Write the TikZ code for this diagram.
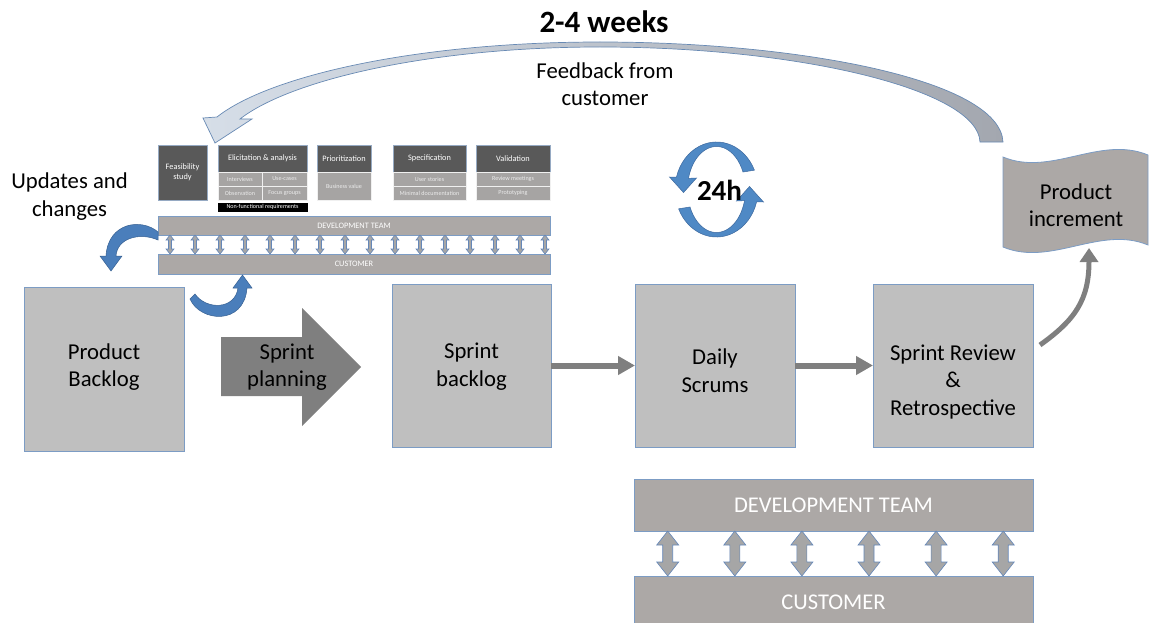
\documentclass[tikz,border=0pt]{standalone}
\usepackage{fontspec}
\setmainfont{Carlito}
\usetikzlibrary{arrows.meta,calc}

\definecolor{boxgray}{RGB}{191,191,191}
\definecolor{boxedge}{RGB}{124,156,196}
\definecolor{bargray}{RGB}{172,168,166}
\definecolor{darkhdr}{RGB}{89,89,89}
\definecolor{hdredge}{RGB}{150,170,195}
\definecolor{cellgray}{RGB}{166,164,163}
\definecolor{celltext}{RGB}{236,236,236}
\definecolor{flowgray}{RGB}{127,127,127}
\definecolor{ringblue}{RGB}{79,137,197}
\definecolor{ringedge}{RGB}{60,104,158}
\definecolor{fbleft}{RGB}{214,222,232}
\definecolor{fbright}{RGB}{163,167,175}
\definecolor{fbedge}{RGB}{104,138,180}
\definecolor{dblfill}{RGB}{166,166,166}
\definecolor{dbledge}{RGB}{100,135,185}
\definecolor{crescentfill}{RGB}{74,126,187}
\definecolor{crescentedge}{RGB}{55,96,146}

\begin{document}
\begin{tikzpicture}[x=1pt,y=-1pt,
  stagebox/.style={draw=boxedge, fill=boxgray, line width=0.8pt, inner sep=0pt, outer sep=0pt, anchor=north west},
  bigtext/.style={font=\fontsize{22.7}{27.5}\selectfont, align=center, text=black, inner sep=0pt},
  bar/.style={draw=boxedge, fill=bargray, line width=0.8pt, inner sep=0pt, outer sep=0pt, text=white, anchor=north west},
  hdr/.style={draw=hdredge, fill=darkhdr, text=white, font=\fontsize{8.3}{10}\selectfont, align=center, inner sep=0pt, outer sep=0pt, line width=0.5pt, anchor=north west},
  cell/.style={draw=white!88!gray, fill=cellgray, text=celltext, font=\fontsize{6.1}{7}\selectfont, inner sep=0pt, outer sep=0pt, line width=0.5pt, anchor=north west},
  flow/.style={draw=flowgray, line width=6pt, -{Triangle[length=17pt,width=18pt]}},
  dblarrow/.style={fill=dblfill, draw=dbledge, line width=0.6pt, line join=miter},
  crescent/.style={fill=crescentfill, draw=crescentedge, line width=0.5pt},
  ring/.style={fill=ringblue, draw=ringedge, line width=0.5pt}]

\useasboundingbox (0,0) rectangle (1150,623);

% ---------- feedback loop over the top ----------
\shadedraw[left color=fbleft, right color=fbright, draw=fbedge, line width=0.7pt]
  (1003,142) .. controls (1000,80) and (800,42) .. (600,42)
  .. controls (420,42) and (270,75) .. (217,117)
  -- (203,118) -- (215,143) -- (252,119) -- (240,119)
  .. controls (290,80) and (430,47) .. (600,47)
  .. controls (800,47) and (978,90) .. (980,142) -- cycle;
\node[font=\bfseries\fontsize{31}{33}\selectfont] (weeks) at (604,22) {2-4 weeks};
\node[bigtext] (feedback) at (605,84) {Feedback from\\customer};

% ---------- requirements activities ----------
\node[hdr, minimum width=49, minimum height=55] (feas) at (158,145) {Feasibility\\study};
\node[hdr, minimum width=89, minimum height=27] (elic) at (218,145) {Elicitation \& analysis};
\node[cell, minimum width=44, minimum height=14] (interv) at (218,172) {Interviews};
\node[cell, minimum width=45, minimum height=14] (usec) at (262,172) {Use-cases};
\node[cell, minimum width=44, minimum height=14] (obs) at (218,186) {Observation};
\node[cell, minimum width=45, minimum height=14] (focus) at (262,186) {Focus groups};
\node[cell, fill=black, draw=black, text=white, minimum width=89, minimum height=8.5] (nfr) at (218,203) {Non-functional requirements};
\node[hdr, minimum width=54, minimum height=27] (prio) at (317,145) {Prioritization};
\node[cell, minimum width=54, minimum height=28] (bval) at (317,172) {Business value};
\node[hdr, minimum width=73, minimum height=27] (spec) at (393,145) {Specification};
\node[cell, minimum width=73, minimum height=14] (ustor) at (393,172) {User stories};
\node[cell, minimum width=73, minimum height=14] (mdoc) at (393,186) {Minimal documentation};
\node[hdr, minimum width=74, minimum height=27] (valid) at (476,145) {Validation};
\node[cell, minimum width=74, minimum height=14] (revm) at (476,172) {Review meetings};
\node[cell, minimum width=74, minimum height=14] (proto) at (476,186) {Prototyping};

% small team / customer bars
\node[bar, minimum width=392, minimum height=19, font=\fontsize{8.3}{9}\selectfont] (devs) at (158,216) {DEVELOPMENT TEAM};
\node[bar, minimum width=392, minimum height=20, font=\fontsize{8.3}{9}\selectfont] (custs) at (158,254) {CUSTOMER};
\foreach \i in {0,...,15} {
  \coordinate (t) at ($(devs.south west)+(12+25*\i,0)$);
  \coordinate (b) at ($(custs.north west)+(12+25*\i,0)$);
  \filldraw[dblarrow] (t) -- ($(t)+(4,5)$) -- ($(t)+(1.5,5)$) -- ($(b)+(1.5,-5)$) -- ($(b)+(4,-5)$)
    -- (b) -- ($(b)+(-4,-5)$) -- ($(b)+(-1.5,-5)$) -- ($(t)+(-1.5,5)$) -- ($(t)+(-4,5)$) -- cycle;
}

% updates and changes
\node[bigtext] (updates) at (69.5,196.5) {Updates and\\changes};
\filldraw[crescent] (158,232) .. controls (142,218) and (108,222) .. (106,256)
  -- (100,256) -- (111,271) -- (122,256) -- (116,256)
  .. controls (117,238) and (140,232) .. (158,240) -- cycle;
\filldraw[crescent] (190,299) .. controls (200,322) and (244,326) .. (247,288)
  -- (252,288) -- (242.5,275) -- (233,288) -- (238,288)
  .. controls (235,310) and (206,310) .. (195,294) -- cycle;

% ---------- sprint flow ----------
\node[stagebox, minimum width=160, minimum height=164] (pb) at (24,287) {};
\node[bigtext] (pbt) at (104,367) {Product\\Backlog};

\fill[flowgray] (221,337) -- (302,337) -- (302,308) -- (361,367) -- (302,426) -- (302,396) -- (221,396) -- cycle;
\node[bigtext] (plan) at (287,367) {Sprint\\planning};

\node[stagebox, minimum width=159, minimum height=163] (sb) at (392,284) {};
\node[bigtext] (sbt) at (471.5,366.5) {Sprint\\backlog};
\node[stagebox, minimum width=160, minimum height=163] (ds) at (635,284) {};
\node[bigtext] (dst) at (715,370.5) {Daily\\Scrums};
\node[stagebox, minimum width=160, minimum height=163] (sr) at (873,284) {};
\node[bigtext] (srt) at (953,382) {Sprint Review\\\&\\Retrospective};

\draw[flow] (sb.east) -- (ds.west);
\draw[flow] (ds.east) -- (sr.west);

% 24h daily cycle
\begin{scope}[shift={(716.5,189.5)}, y=1pt]
  \filldraw[ring] (37.91,19.32) arc[start angle=24, end angle=165, x radius=41.5, y radius=47.5]
    -- (-47,12.5) -- (-33,-3) -- (-20,11.5) -- (-28.01,11.13)
    arc[start angle=165, end angle=24, x radius=29, y radius=43] -- cycle;
  \filldraw[ring] (-37.91,-19.32) arc[start angle=204, end angle=345, x radius=41.5, y radius=47.5]
    -- (47,-12.5) -- (33,3) -- (20,-11.5) -- (28.01,-11.13)
    arc[start angle=345, end angle=204, x radius=29, y radius=43] -- cycle;
\end{scope}
\node[font=\bfseries\fontsize{29}{31}\selectfont] (day) at (719.5,190) {24h};

% product increment
\filldraw[fill=bargray, draw=boxedge, line width=0.8pt]
  (1003,157) .. controls (1051,177) and (1100,135) .. (1148,155)
  -- (1148,245) .. controls (1100,225) and (1051,267) .. (1003,247) -- cycle;
\node[bigtext] (inc) at (1076,205) {Product\\increment};
\coordinate (incfrom) at (1040,345);
\coordinate (incto) at (1089,248);
\draw[draw=flowgray, line width=5pt, -{Triangle[length=14pt,width=18pt]}]
  (incfrom) .. controls (1075,320) and (1089,300) .. (incto);

% ---------- large team / customer bars ----------
\node[bar, minimum width=399, minimum height=52, font=\fontsize{22.5}{24}\selectfont] (devb) at (634,479) {DEVELOPMENT TEAM};
\node[bar, minimum width=399, minimum height=52, font=\fontsize{22.5}{24}\selectfont] (custb) at (634,576) {CUSTOMER};
\foreach \i in {0,...,5} {
  \coordinate (t) at ($(devb.south west)+(33.7+67.1*\i,0)$);
  \coordinate (b) at ($(custb.north west)+(33.7+67.1*\i,0)$);
  \filldraw[dblarrow] (t) -- ($(t)+(11,14)$) -- ($(t)+(5,14)$) -- ($(b)+(5,-14)$) -- ($(b)+(11,-14)$)
    -- (b) -- ($(b)+(-11,-14)$) -- ($(b)+(-5,-14)$) -- ($(t)+(-5,14)$) -- ($(t)+(-11,14)$) -- cycle;
}
\end{tikzpicture}
\end{document}
